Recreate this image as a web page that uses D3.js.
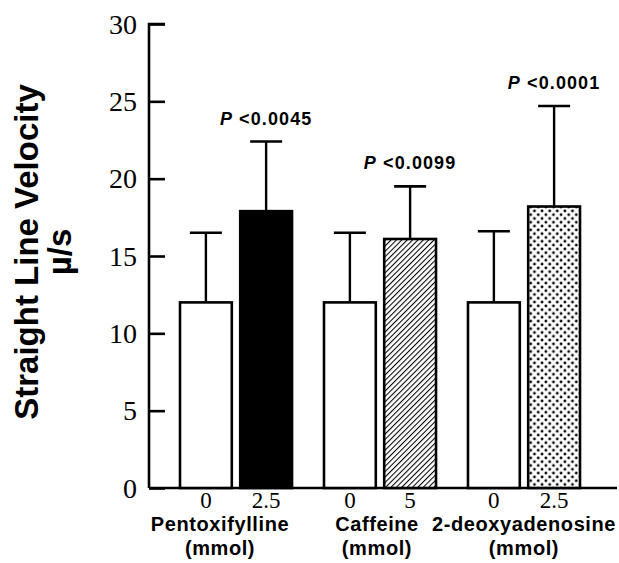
<!DOCTYPE html>
<html>
<head>
<meta charset="utf-8">
<script src="https://cdn.jsdelivr.net/npm/d3@7"></script>
<style>
  html, body { margin: 0; padding: 0; background: #fff; }
  svg { display: block; }
</style>
</head>
<body>
<svg id="chart" width="619" height="563"></svg>
<script>
// ---- data ----
const categories = ["Pentoxifylline", "Caffeine", "2-deoxyadenosine"];
const unitLabels = ["(mmol)", "(mmol)", "(mmol)"];
const doseLabels = [["0", "2.5"], ["0", "5"], ["0", "2.5"]];
const controlValues = [12.0, 12.0, 12.0];
const controlErrors = [4.5, 4.5, 4.6];
const treatedValues = [17.9, 16.1, 18.2];
const treatedErrors = [4.5, 3.4, 6.5];
const pLabels = ["<0.0045", "<0.0099", "<0.0001"];
const yTicks = [0, 5, 10, 15, 20, 25, 30];
const fillKinds = ["black", "hatch", "dots"];

const svg = d3.select("#chart");
const defs = svg.append("defs");

// hatch pattern
const hatch = defs.append("pattern")
  .attr("id", "hatch").attr("patternUnits", "userSpaceOnUse")
  .attr("width", 3.8).attr("height", 3.8)
  .attr("patternTransform", "rotate(45)");
hatch.append("rect").attr("width", 3.8).attr("height", 3.8).attr("fill", "#fff");
hatch.append("line").attr("x1", 0).attr("y1", 0).attr("x2", 0).attr("y2", 3.8)
  .attr("stroke", "#000").attr("stroke-width", 2.1);

// dots pattern
const dots = defs.append("pattern")
  .attr("id", "dots").attr("patternUnits", "userSpaceOnUse")
  .attr("width", 7.6).attr("height", 7.6);
dots.append("rect").attr("width", 7.6).attr("height", 7.6).attr("fill", "#fff");
dots.append("circle").attr("cx", 1.9).attr("cy", 1.9).attr("r", 1.4).attr("fill", "#000");
dots.append("circle").attr("cx", 5.7).attr("cy", 5.7).attr("r", 1.4).attr("fill", "#000");

const fillFor = k => k === "black" ? "#000" : k === "hatch" ? "url(#hatch)" : "url(#dots)";

// ---- scales ----
const y = d3.scaleLinear().domain([0, 30]).range([488, 24]);
const xGroup = d3.scaleBand().domain(categories).range([180, 580]).paddingInner(0.222).paddingOuter(0);
const xInner = d3.scaleBand().domain([0, 1]).range([0, xGroup.bandwidth()]).paddingInner(0.14).paddingOuter(0);

const axisX = 149;
const labelShift = [-16, -3, 0];

// ---- y axis ----
const yAxis = d3.axisRight(y).tickValues(yTicks).tickSize(16).tickFormat("");
const gy = svg.append("g").attr("transform", `translate(${axisX},0)`).call(yAxis);
gy.select(".domain").attr("d", `M16,${y(30)}H0V${y(0)}`).attr("stroke", "#000").attr("stroke-width", 2.6).attr("fill", "none");
gy.selectAll(".tick line").attr("stroke", "#000").attr("stroke-width", 2.6);

svg.append("g").selectAll("text").data(yTicks).join("text")
  .attr("x", 137).attr("y", d => y(d))
  .attr("dy", "0.35em")
  .attr("text-anchor", "end")
  .attr("font-family", "'Liberation Serif', 'Times New Roman', serif")
  .attr("font-size", 28)
  .text(d => d);

// baseline
svg.append("line")
  .attr("x1", axisX).attr("x2", 617).attr("y1", y(0)).attr("y2", y(0))
  .attr("stroke", "#000").attr("stroke-width", 2.6);

// ---- bars ----
const groups = svg.append("g").selectAll("g").data(categories).join("g")
  .attr("transform", d => `translate(${xGroup(d)},0)`);

groups.each(function(cat, i) {
  const g = d3.select(this);
  const vals = [controlValues[i], treatedValues[i]];
  const errs = [controlErrors[i], treatedErrors[i]];
  const fills = ["#fff", fillFor(fillKinds[i])];
  [0, 1].forEach(j => {
    const bx = xInner(j), bw = xInner.bandwidth();
    const cx = bx + bw / 2;
    // error bar
    g.append("line").attr("x1", cx).attr("x2", cx)
      .attr("y1", y(vals[j])).attr("y2", y(vals[j] + errs[j]))
      .attr("stroke", "#000").attr("stroke-width", 2.4);
    g.append("line").attr("x1", cx - 16).attr("x2", cx + 16)
      .attr("y1", y(vals[j] + errs[j])).attr("y2", y(vals[j] + errs[j]))
      .attr("stroke", "#000").attr("stroke-width", 2.6);
    // bar
    g.append("rect").attr("x", bx).attr("width", bw)
      .attr("y", y(vals[j])).attr("height", y(0) - y(vals[j]))
      .attr("fill", fills[j]).attr("stroke", "#000").attr("stroke-width", 2.6);
    // dose label
    g.append("text").attr("x", cx).attr("y", 508)
      .attr("text-anchor", "middle")
      .attr("font-family", "'Liberation Serif', 'Times New Roman', serif")
      .attr("font-size", 23)
      .text(doseLabels[i][j]);
  });
  // P label
  const tcx = xInner(1) + xInner.bandwidth() / 2;
  const pt = g.append("text").attr("x", tcx).attr("y", y(treatedValues[i] + treatedErrors[i]) - 17)
    .attr("text-anchor", "middle")
    .attr("font-family", "'Liberation Sans', Arial, sans-serif")
    .attr("font-weight", "bold").attr("font-size", 18)
    .attr("letter-spacing", 1.1);
  pt.append("tspan").attr("font-style", "italic").text("P");
  pt.append("tspan").text(" " + pLabels[i]);
  // category labels
  const gc = xGroup.bandwidth() / 2 + labelShift[i];
  g.append("text").attr("x", gc).attr("y", 531)
    .attr("text-anchor", "middle")
    .attr("font-family", "'Liberation Sans', Arial, sans-serif")
    .attr("font-weight", "bold").attr("font-size", 20).attr("letter-spacing", 0.6)
    .text(cat);
  g.append("text").attr("x", gc).attr("y", 555)
    .attr("text-anchor", "middle")
    .attr("font-family", "'Liberation Sans', Arial, sans-serif")
    .attr("font-weight", "bold").attr("font-size", 20).attr("letter-spacing", 0.6)
    .text(unitLabels[i]);
});

// ---- y axis title ----
const yt = svg.append("text")
  .attr("transform", "translate(38,252) rotate(-90)")
  .attr("text-anchor", "middle")
  .attr("font-family", "'Liberation Sans', Arial, sans-serif")
  .attr("font-weight", "bold").attr("font-size", 33);
yt.append("tspan").attr("x", 0).attr("y", 0).text("Straight Line Velocity");
yt.append("tspan").attr("x", 0).attr("y", 33).text("µ/s");
</script>
</body>
</html>
